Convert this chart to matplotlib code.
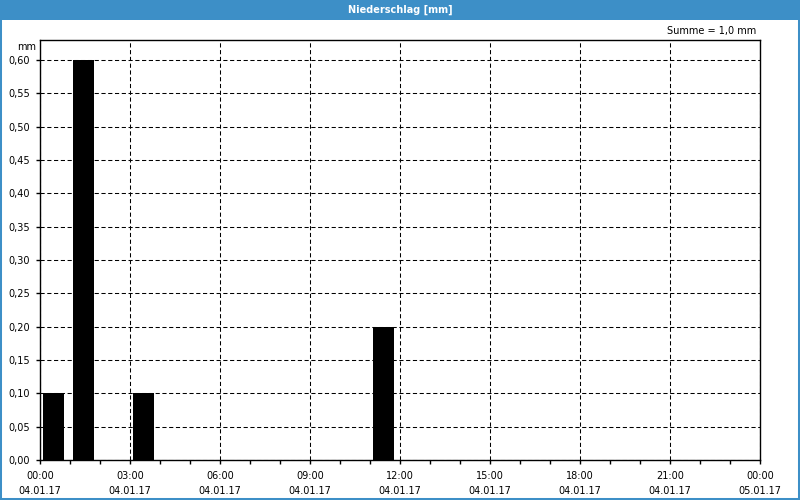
import matplotlib
matplotlib.use("Agg")
import matplotlib.pyplot as plt
from matplotlib.patches import Rectangle
from matplotlib.ticker import MultipleLocator, FixedLocator

# Data
hours = [0, 1, 3, 11]            # start hour of each measurement interval
values = [0.10, 0.60, 0.10, 0.20]  # precipitation in mm
tick_hours = [0, 3, 6, 9, 12, 15, 18, 21, 24]
tick_times = ["00:00", "03:00", "06:00", "09:00", "12:00", "15:00", "18:00", "21:00", "00:00"]
tick_dates = ["04.01.17"] * 8 + ["05.01.17"]
y_ticks = [0.00, 0.05, 0.10, 0.15, 0.20, 0.25, 0.30, 0.35, 0.40, 0.45, 0.50, 0.55, 0.60]
title = "Niederschlag [mm]"
summe = "Summe = 1,0 mm"

plt.rcParams['font.family'] = ['DejaVu Sans']
blue = "#3d8fc7"

fig = plt.figure(figsize=(8, 5), dpi=100)
fig.patch.set_facecolor("white")

# Title bar and border
fig.patches.append(Rectangle((0, 1 - 20 / 500), 1, 20 / 500, transform=fig.transFigure,
                             facecolor=blue, edgecolor="none", zorder=0))
fig.patches.append(Rectangle((0, 0), 1, 1, transform=fig.transFigure,
                             facecolor="none", edgecolor=blue, lw=2.9, zorder=0))
fig.text(0.5, 1 - 10 / 500, title, color="white", fontsize=7, fontweight="bold",
         ha="center", va="center")

ax = fig.add_axes([40 / 800, 40 / 500, 720 / 800, 420 / 500])
ax.set_facecolor("white")

ax.bar([h + 0.11 for h in hours], values, width=0.69, align="edge", color="black", zorder=3)

ax.set_xlim(0, 24)
ax.set_ylim(0, 0.63)

ax.xaxis.set_major_locator(FixedLocator(tick_hours))
ax.set_xticklabels([f"{t}\n{d}" for t, d in zip(tick_times, tick_dates)], linespacing=1.55)
ax.xaxis.set_minor_locator(MultipleLocator(1))
ax.yaxis.set_major_locator(FixedLocator(y_ticks))
ax.set_yticklabels([f"{v:.2f}".replace(".", ",") for v in y_ticks])

ax.tick_params(axis="both", which="major", direction="out", length=3, width=1,
               labelsize=7, colors="black", pad=4)
ax.tick_params(axis="x", which="minor", direction="out", length=3, width=1)
ax.tick_params(axis="x", which="major", pad=5)

ax.grid(True, which="major", color="black", linestyle=(0, (4, 2.5)), linewidth=0.75, zorder=1)
for s in ax.spines.values():
    s.set_color("black")
    s.set_linewidth(1)
    s.set_zorder(4)

ax.text(-0.005, 0.995, "mm", transform=ax.transAxes, ha="right", va="top", fontsize=7)
fig.text(756 / 800, 1 - 31 / 500, summe, ha="right", va="center", fontsize=7)

fig.savefig("out.png", dpi=100, facecolor=fig.get_facecolor())
